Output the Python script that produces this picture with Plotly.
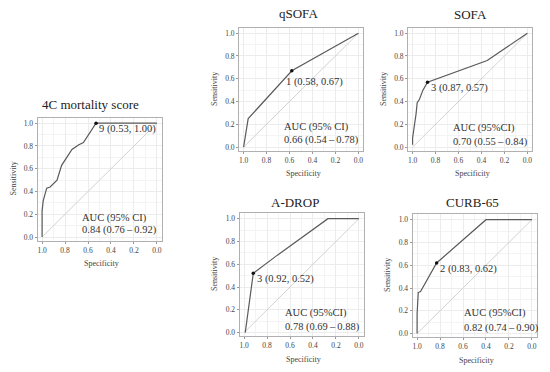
import plotly.graph_objects as go

W, H = 550, 372

# ---- data ----
titles = ["4C mortality score", "qSOFA", "SOFA", "A-DROP", "CURB-65"]

spec_4c = [1.00, 1.00, 0.99, 0.96, 0.93, 0.87, 0.83, 0.74, 0.68, 0.64, 0.53, 0.00]
sens_4c = [0.00, 0.23, 0.32, 0.43, 0.44, 0.50, 0.63, 0.77, 0.81, 0.83, 1.00, 1.00]

spec_qsofa = [1.00, 0.96, 0.58, 0.00]
sens_qsofa = [0.00, 0.25, 0.67, 1.00]

spec_sofa = [1.00, 1.00, 0.99, 0.98, 0.97, 0.96, 0.94, 0.91, 0.87, 0.35, 0.00]
sens_sofa = [0.02, 0.08, 0.15, 0.21, 0.29, 0.39, 0.42, 0.50, 0.57, 0.76, 1.00]

spec_adrop = [0.99, 0.92, 0.71, 0.27, 0.00]
sens_adrop = [0.00, 0.52, 0.68, 1.00, 1.00]

spec_curb = [1.00, 1.00, 0.99, 0.97, 0.83, 0.40, 0.00]
sens_curb = [0.00, 0.17, 0.36, 0.37, 0.62, 1.00, 1.00]

cut_labels = ["9 (0.53, 1.00)", "1 (0.58, 0.67)", "3 (0.87, 0.57)", "3 (0.92, 0.52)", "2 (0.83, 0.62)"]
cut_spec = [0.53, 0.58, 0.87, 0.92, 0.83]
cut_sens = [1.00, 0.67, 0.57, 0.52, 0.62]

auc_head = ["AUC (95% CI)", "AUC (95% CI)", "AUC (95%CI)", "AUC (95%CI)", "AUC (95%CI)"]
auc_vals = ["0.84 (0.76\u2009\u2013\u20090.92)", "0.66 (0.54\u2009\u2013\u20090.78)",
            "0.70 (0.55\u2009\u2013\u20090.84)", "0.78 (0.69\u2009\u2013\u20090.88)",
            "0.82 (0.74\u2009\u2013\u20090.90)"]

tick_vals = [0.0, 0.2, 0.4, 0.6, 0.8, 1.0]
tick_text = ["0.0", "0.2", "0.4", "0.6", "0.8", "1.0"]

specs = [spec_4c, spec_qsofa, spec_sofa, spec_adrop, spec_curb]
senss = [sens_4c, sens_qsofa, sens_sofa, sens_adrop, sens_curb]

# ---- layout (pixel boxes: left, right, top, bottom) ----
boxes = [(37.5, 161.5, 117.5, 240.5),
         (239, 363, 27.5, 150.5),
         (408, 532, 27.5, 150.5),
         (239.5, 363.5, 213, 336),
         (412.5, 536.5, 214, 337)]
title_pos = [(90, 105), (298, 14), (470, 15), (295, 203), (472, 203)]
cut_shift = [(1, -6), (-8, -11), (1, -6), (2, -6), (1, -6)]
auc_pos = [(80, 218, 229.5), (282, 127, 140), (451, 128, 142), (283, 313, 327), (462, 313, 328)]

SERIF = "Liberation Serif, Times New Roman, serif"
XR = [1.04, -0.04]
YR = [-0.03, 1.05]

fig = go.Figure()
ann = []

def px(x):
    return x / W

def py(y):
    return 1 - y / H

for i in range(5):
    n = "" if i == 0 else str(i + 1)
    xa, ya = "x" + n, "y" + n
    L, R, T, B = boxes[i]
    axis_common = dict(
        showgrid=True, gridcolor="#ececec", gridwidth=1,
        minor=dict(dtick=0.1, showgrid=True, gridcolor="#f4f4f4", gridwidth=1),
        showline=True, mirror=True, linecolor="#b0b0b0", linewidth=1,
        zeroline=False, ticks="outside", ticklen=2, tickcolor="#999",
        tickvals=tick_vals, ticktext=tick_text,
        tickfont=dict(family=SERIF, size=7.5, color="#444"),
        fixedrange=True,
    )
    fig.update_layout({
        "xaxis" + n: dict(axis_common, domain=[px(L), px(R)], range=XR,
                          anchor=ya),
        "yaxis" + n: dict(axis_common, domain=[py(B), py(T)], range=YR,
                          anchor=xa),
    })
    # diagonal reference
    fig.add_trace(go.Scatter(x=[1, 0], y=[0, 1], mode="lines",
                             line=dict(color="#d2d2d2", width=1),
                             xaxis=xa, yaxis=ya, showlegend=False, hoverinfo="skip"))
    # ROC curve
    fig.add_trace(go.Scatter(x=specs[i], y=senss[i], mode="lines",
                             line=dict(color="#5a5a5a", width=1.2),
                             xaxis=xa, yaxis=ya, showlegend=False))
    # cutoff point
    fig.add_trace(go.Scatter(x=[cut_spec[i]], y=[cut_sens[i]], mode="markers",
                             marker=dict(color="#111", size=3.5),
                             xaxis=xa, yaxis=ya, showlegend=False))
    ann.append(dict(x=cut_spec[i], y=cut_sens[i], xref=xa, yref=ya,
                    text=cut_labels[i], showarrow=False, xanchor="left", yanchor="middle",
                    xshift=cut_shift[i][0], yshift=cut_shift[i][1],
                    font=dict(family=SERIF, size=10.5, color="#333")))
    # title
    tx, ty = title_pos[i]
    ann.append(dict(x=px(tx), y=py(ty), xref="paper", yref="paper", text=titles[i],
                    showarrow=False, xanchor="center", yanchor="middle",
                    font=dict(family=SERIF, size=13, color="#222")))
    # AUC text
    ax_, a1, a2 = auc_pos[i]
    ann.append(dict(x=px(ax_), y=py(a1), xref="paper", yref="paper", text=auc_head[i],
                    showarrow=False, xanchor="left", yanchor="middle",
                    font=dict(family=SERIF, size=10.5, color="#333")))
    ann.append(dict(x=px(ax_), y=py(a2), xref="paper", yref="paper", text=auc_vals[i],
                    showarrow=False, xanchor="left", yanchor="middle",
                    font=dict(family=SERIF, size=10.5, color="#333")))
    # axis titles
    ann.append(dict(x=px((L + R) / 2 + 2), y=py(B + 23), xref="paper", yref="paper",
                    text="Specificity", showarrow=False, xanchor="center", yanchor="middle",
                    font=dict(family=SERIF, size=8, color="#444")))
    ann.append(dict(x=px(L - 25), y=py((T + B) / 2), xref="paper", yref="paper",
                    text="Sensitivity", showarrow=False, xanchor="center", yanchor="middle",
                    textangle=-90, font=dict(family=SERIF, size=8, color="#444")))

fig.update_layout(width=W, height=H, margin=dict(l=0, r=0, t=0, b=0),
                  paper_bgcolor="white", plot_bgcolor="white",
                  annotations=ann, showlegend=False)

fig.write_html("out.html", config={"displayModeBar": False},
               post_script="document.body.style.margin='0px';document.body.style.padding='0px';")
